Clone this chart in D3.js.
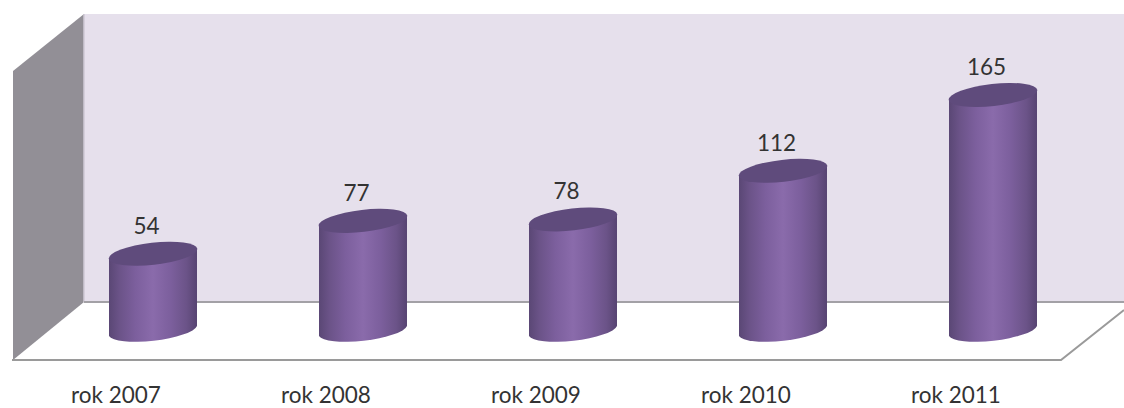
<!DOCTYPE html>
<html><head><meta charset="utf-8">
<style>html,body{margin:0;padding:0;background:#fff}svg{display:block}text{font-family:Lato,Carlito,sans-serif;fill:#333}</style>
<script src="https://cdn.jsdelivr.net/npm/d3@7"></script>
</head><body><svg id="c" width="1124" height="408"></svg>
<script>
const categories=["rok 2007","rok 2008","rok 2009","rok 2010","rok 2011"];
const values=[54,77,78,112,165];
const colors={wall:"#e6e0ec",side:"#928f96",line:"#9a9a9a",top:"#5f4b7c"};
const svg=d3.select("#c");
const p=0.581;
const x=d3.scaleBand().domain(categories).range([48,1098]).paddingInner(p).paddingOuter(p/2);
const y=d3.scaleLinear().domain([0,165]).range([331,95]);
const defs=svg.append("defs");
const g=defs.append("linearGradient").attr("id","cyl");
[[0,"#5a4775"],[0.12,"#6b5388"],[0.3,"#7c5f9d"],[0.5,"#8a6bab"],[0.7,"#7c5f9d"],[0.88,"#6b5388"],[1,"#574472"]]
 .forEach(s=>g.append("stop").attr("offset",s[0]).attr("stop-color",s[1]));
// walls
svg.append("rect").attr("x",84).attr("y",14).attr("width",1040).attr("height",288).attr("fill",colors.wall);
svg.append("path").attr("d","M13,71L84,14V302L13,360Z").attr("fill",colors.side);
svg.append("path").attr("d","M84,14V302").attr("stroke","#cfcad6").attr("stroke-width",1.5).attr("fill","none");
svg.append("path").attr("d","M84,302H1124").attr("stroke","#a3a1a6").attr("stroke-width",2).attr("fill","none");
svg.append("path").attr("d","M84,303H1124V310L1061,360H16Z").attr("fill","#fff");
svg.append("path").attr("d","M12,360H1061L1124,310").attr("stroke",colors.line).attr("stroke-width",2).attr("fill","none");
// cylinders
const rx=44.6,ry=11,deg=-6.5,dy=4.9;
const bars=svg.selectAll("g.bar").data(categories).join("g").attr("class","bar");
bars.append("path").attr("fill","url(#cyl)").attr("d",(c,i)=>{
  const l=x(c),r=x(c)+x.bandwidth(),t=y(values[i]),b=y(0);
  return `M${l},${t+dy}L${l},${b+dy}A${rx},${ry} ${deg} 0 0 ${r},${b-dy}L${r},${t-dy}Z`;
});
bars.append("ellipse").attr("fill",colors.top)
 .attr("rx",rx).attr("ry",ry)
 .attr("transform",(c,i)=>`translate(${x(c)+x.bandwidth()/2},${y(values[i])}) rotate(${deg})`);
// value labels
bars.append("text").attr("text-anchor","middle").attr("font-size",22.5)
 .attr("x",c=>x(c)+x.bandwidth()/2-6.5).attr("y",(c,i)=>y(values[i])-20).text((c,i)=>values[i]);
// category labels
svg.append("g").selectAll("text").data(categories).join("text").attr("text-anchor","middle").attr("font-size",22.5)
 .attr("x",c=>x(c)+x.bandwidth()/2-37).attr("y",403).text(c=>c);
</script></body></html>
